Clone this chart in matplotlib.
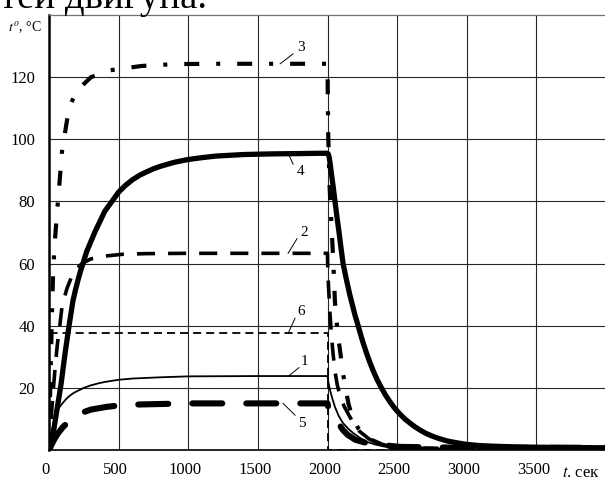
import matplotlib
matplotlib.use("Agg")
import matplotlib.pyplot as plt
import matplotlib.transforms as mtransforms

plt.rcParams["font.family"] = ["Liberation Serif", "DejaVu Serif"]
plt.rcParams["mathtext.fontset"] = "stix"
plt.rcParams["lines.scale_dashes"] = False

# 1 - thin solid
T1 = [0, 10, 25, 43, 70, 100, 125, 150, 175, 200, 250, 300, 350, 400, 500, 600, 800, 1000, 1500, 2000,
      2005, 2018, 2035, 2054, 2080, 2111, 2150, 2183, 2230, 2284, 2340, 2400, 2500, 2600, 3000, 4000]
V1 = [0, 3.5, 7, 10.8, 13.5, 15.2, 16.5, 17.5, 18.3, 18.9, 20.0, 20.8, 21.4, 21.9, 22.6, 23.0, 23.4, 23.7, 23.8, 23.8,
      22.0, 19.3, 16.5, 13.8, 11.0, 8.7, 6.8, 5.5, 4.0, 2.6, 1.8, 1.2, 0.8, 0.6, 0.3, 0.2]

# 2 - dashed
T2 = [0, 15, 30, 45, 60, 75, 93, 110, 129, 160, 190, 237, 300, 420, 530, 700, 1000, 1500, 2000,
      2002, 2008, 2015, 2022, 2030, 2040, 2055, 2070, 2090, 2120, 2175, 2230, 2300, 2400, 2600, 3000, 4000]
V2 = [0, 10, 19, 27, 34, 39, 46, 49, 52, 55.5, 58, 60, 61.5, 62.5, 63.0, 63.2, 63.3, 63.3, 63.3,
      58, 52, 46, 41, 36, 31, 25, 21, 17.5, 14, 9.5, 6, 3.5, 1.5, 0.6, 0.3, 0.2]

# 3 - dash-dot
T3 = [0, 8, 15, 22, 29, 40, 57, 79, 93, 129, 150, 208, 302, 438, 531, 667, 900, 1200, 2000,
      2003, 2006, 2015, 2030, 2039, 2046, 2053, 2064, 2075, 2096, 2110, 2125, 2150, 2175, 2220,
      2280, 2400, 2600, 3000, 4000]
V3 = [0, 18, 32, 45, 56, 66, 76, 88, 96, 106, 111, 116, 120, 122.2, 122.8, 123.6, 124.2, 124.3, 124.3,
      110, 100, 85, 71, 63, 56, 48, 42, 37, 30, 25, 21, 15, 11, 7,
      4, 1.6, 0.6, 0.3, 0.2]

# 4 - thick solid
T4 = [0, 22, 50, 86, 115, 144, 172, 190, 210, 227, 244, 270, 300, 330, 360, 400, 452, 500, 550,
      600, 650, 700, 750, 800, 900, 1000, 1100, 1200, 1400, 1600, 1800, 1950, 2000,
      2006, 2012, 2018, 2025, 2040, 2054, 2068, 2083, 2097, 2112, 2128, 2145, 2160, 2177, 2198,
      2220, 2250, 2280, 2305, 2330, 2357, 2385, 2415, 2450, 2485, 2521, 2560, 2600, 2630, 2665,
      2705, 2750, 2800, 2860, 2930, 3000, 3100, 3200, 3350, 3500, 3750, 4000]
V4 = [0, 3, 11, 21, 31, 40, 48, 51.5, 55, 57.7, 60, 63.8, 67, 70.2, 73, 76.8, 80, 83, 85.2,
      87, 88.4, 89.5, 90.5, 91.3, 92.6, 93.5, 94.1, 94.6, 95.1, 95.3, 95.4, 95.5, 95.5,
      95.2, 94.2, 92.5, 90, 85, 80, 75, 70, 65, 60, 56.5, 53, 50, 47, 43.3, 40,
      35.3, 31.2, 28.1, 25.3, 22.6, 20.2, 17.8, 15.4, 13.3, 11.5, 9.8, 8.4, 7.4, 6.4,
      5.4, 4.5, 3.7, 2.9, 2.3, 1.8, 1.4, 1.2, 1.0, 0.9, 0.8, 0.7]

# 5 - heavy dashed
T5 = [0, 20, 40, 60, 100, 150, 200, 237, 300, 416, 500, 600, 800, 1000, 1500, 2000,
      2004, 2030, 2054, 2080, 2110, 2147, 2200, 2300, 2521, 3000, 4000]
V5 = [0, 1.9, 3.6, 5.1, 7.4, 9.5, 11.0, 12.0, 13.0, 13.9, 14.3, 14.6, 14.8, 15.0, 15.0, 15.0,
      14.0, 12.0, 10.6, 8.5, 6.5, 4.8, 3.3, 2.0, 1.0, 0.7, 0.7]

# 6 - thin dashed step
T6 = [0, 0, 2000, 2000, 4000]
V6 = [0, 37.5, 37.5, 0, 0]

XTICKS = [0, 500, 1000, 1500, 2000, 2500, 3000, 3500]
YTICKS = [20, 40, 60, 80, 100, 120]

# curve number, start of its leader on the curve, end of leader, text position
LABELS = [
    ("1", (1720, 23.8), (1795, 26.5), (1810, 28.5)),
    ("2", (1717, 63.3), (1781, 68.0), (1803, 70.0)),
    ("3", (1660, 124.3), (1753, 127.5), (1781, 129.5)),
    ("4", (1717, 95.5), (1753, 92.0), (1781, 89.5)),
    ("5", (1681, 15.0), (1767, 11.2), (1789, 8.5)),
    ("6", (1717, 37.5), (1767, 42.4), (1781, 44.5)),
]

fig = plt.figure(figsize=(6.05, 4.79), dpi=100)
ax = fig.add_axes([49 / 605, 29 / 479, 557 / 605, 435 / 479])

ax.plot(T6, V6, color="black", lw=1.3, dashes=(5.8, 3.6))
ax.plot(T1, V1, color="black", lw=1.3)
ax.plot(T2, V2, color="black", lw=2.6, dashes=(13, 9.4), dash_capstyle="butt")
ax.plot(T3, V3, color="black", lw=3.0, dashes=(10.8, 12.2, 2.9, 12.2), dash_capstyle="butt")
ax.plot(T5, V5, color="black", lw=4.4, dashes=(21.6, 17.3), dash_capstyle="round")
ax.plot(T4, V4, color="black", lw=3.8, solid_joinstyle="round")

for txt, p0, p1, pt in LABELS:
    ax.plot([p0[0], p1[0]], [p0[1], p1[1]], color="black", lw=0.7)
    ax.text(pt[0], pt[1], txt, fontsize=11, ha="left", va="center")

ax.set_xlim(0, 4000)
ax.set_ylim(0, 140)
ax.set_xticks(XTICKS)
ax.set_yticks(YTICKS)
ax.tick_params(length=0, labelsize=12)
ax.tick_params(axis="y", pad=10)
ax.tick_params(axis="x", pad=9)
shift = mtransforms.ScaledTranslation(-3 / 100, 0, fig.dpi_scale_trans)
for lab in ax.get_xticklabels():
    lab.set_transform(lab.get_transform() + shift)

ax.grid(True, color="0.15", lw=0.8)
ax.set_axisbelow(True)
ax.spines["left"].set_linewidth(1.8)
ax.spines["bottom"].set_linewidth(1.2)
ax.spines["top"].set_color("0.45")
ax.spines["top"].set_linewidth(0.9)
ax.spines["right"].set_visible(False)

fig.text(8 / 605, 1 - 27 / 479, r"$t^{o}$, °C", fontsize=10, ha="left", va="center")
fig.text(600 / 605, 1 - 473 / 479, r"$t$. сек", fontsize=12, ha="right", va="center")
fig.text(0 / 605, 1 - 8 / 479, "тей двигуна.", fontsize=28, ha="left", va="baseline")

fig.savefig("out.png", dpi=100)
